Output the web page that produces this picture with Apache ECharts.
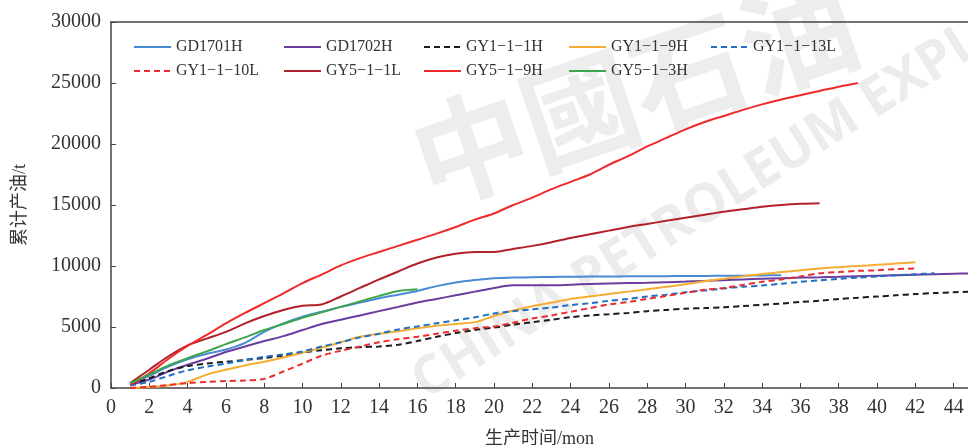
<!DOCTYPE html>
<html>
<head>
<meta charset="utf-8">
<script src="https://cdn.jsdelivr.net/npm/echarts@6/dist/echarts.min.js"></script>
<style>
  html, body { margin: 0; padding: 0; background: #fff; }
  #chart { width: 968px; height: 445px; }
</style>
</head>
<body>
<div id="chart"></div>
<script>
// 生产月份（每口井从第1个月开始）
const months = [];
for (let m = 1; m <= 45; m++) months.push(m);

const xTicks = [0, 2, 4, 6, 8, 10, 12, 14, 16, 18, 20, 22, 24, 26, 28, 30, 32, 34, 36, 38, 40, 42, 44];

// 累计产油 / t，按月读取
const gd1701h = [300, 1000, 1750, 2350, 2800, 3150, 3700, 4600, 5300, 5850, 6250, 6650, 7000, 7350, 7650,
  7950, 8350, 8650, 8850, 9000, 9050, 9080, 9100, 9120, 9130, 9140, 9150, 9160, 9170, 9180, 9190, 9200, 9210, 9230, 9250];
const gd1702h = [250, 700, 1350, 1900, 2400, 2950, 3400, 3850, 4250, 4750, 5250, 5600, 5950, 6300, 6650,
  7000, 7300, 7600, 7900, 8200, 8420, 8420, 8420, 8470, 8520, 8560, 8600, 8630, 8670, 8720, 8780, 8840, 8900, 8950,
  9000, 9050, 9080, 9120, 9170, 9210, 9250, 9290, 9330, 9370, 9400];
const gy1_1_1h = [250, 800, 1400, 1800, 2000, 2150, 2300, 2450, 2650, 2900, 3100, 3250, 3350, 3400, 3550,
  3850, 4200, 4500, 4750, 4950, 5200, 5400, 5600, 5800, 5950, 6050, 6150, 6300, 6400, 6500, 6550, 6620, 6720, 6820,
  6920, 7050, 7150, 7300, 7400, 7500, 7600, 7700, 7780, 7850, 7900];
const gy1_1_9h = [0, 80, 200, 500, 1100, 1500, 1850, 2150, 2500, 2900, 3300, 3750, 4200, 4450, 4650,
  4900, 5100, 5250, 5400, 5900, 6350, 6700, 7000, 7300, 7500, 7700, 7900, 8100, 8300, 8500, 8750, 8950, 9150, 9350,
  9500, 9650, 9800, 9900, 10000, 10100, 10200, 10300];
const gy1_1_13l = [200, 500, 1000, 1450, 1750, 2000, 2300, 2550, 2750, 3000, 3400, 3750, 4150, 4450, 4800,
  5050, 5300, 5550, 5800, 6100, 6300, 6450, 6600, 6800, 6950, 7150, 7300, 7500, 7650, 7850, 8000, 8150, 8300, 8400,
  8550, 8700, 8830, 8950, 9050, 9150, 9250, 9330, 9400];
const gy1_1_10l = [0, 100, 250, 400, 500, 570, 620, 750, 1350, 2000, 2650, 3050, 3400, 3750, 4000,
  4200, 4450, 4700, 4900, 5050, 5350, 5700, 5950, 6250, 6550, 6850, 7050, 7300, 7550, 7800, 8050, 8200, 8450, 8700,
  8900, 9150, 9400, 9500, 9600, 9650, 9750, 9800];
const gy5_1_1l = [400, 1500, 2600, 3500, 4050, 4600, 5300, 5900, 6400, 6750, 6850, 7500, 8200, 8900, 9550,
  10200, 10700, 11000, 11150, 11150, 11400, 11650, 11950, 12300, 12600, 12900, 13200, 13450, 13700, 13950, 14200,
  14450, 14650, 14850, 15000, 15100, 15150];
const gy5_1_9h = [250, 1200, 2400, 3450, 4350, 5300, 6150, 6950, 7750, 8600, 9300, 10050, 10650, 11150, 11650,
  12150, 12650, 13200, 13800, 14300, 15000, 15600, 16300, 16900, 17500, 18300, 19000, 19800, 20500, 21200, 21800,
  22300, 22800, 23250, 23650, 24000, 24350, 24700, 25000];
const gy5_1_3h = [400, 1100, 1850, 2450, 3000, 3600, 4150, 4750, 5250, 5750, 6200, 6650, 7100, 7550, 7950, 8100];

const wells = [
  { name: 'GD1701H', values: gd1701h, color: '#4a8ad4', dash: 'solid' },
  { name: 'GD1702H', values: gd1702h, color: '#6a3d9e', dash: 'solid' },
  { name: 'GY1−1−1H', values: gy1_1_1h, color: '#1c1c1c', dash: [6, 4] },
  { name: 'GY1−1−9H', values: gy1_1_9h, color: '#f5ae33', dash: 'solid' },
  { name: 'GY1−1−13L', values: gy1_1_13l, color: '#1f6fc2', dash: [6, 4] },
  { name: 'GY1−1−10L', values: gy1_1_10l, color: '#ec2d30', dash: [6, 4] },
  { name: 'GY5−1−1L', values: gy5_1_1l, color: '#b0212b', dash: 'solid' },
  { name: 'GY5−1−9H', values: gy5_1_9h, color: '#ee2a2a', dash: 'solid' },
  { name: 'GY5−1−3H', values: gy5_1_3h, color: '#3ea54c', dash: 'solid' }
];

const serif = '"Liberation Serif", "Times New Roman", serif';
const cjk = '"Liberation Serif", "Noto Sans CJK SC", serif';

const legendCols = [
  { left: 128, names: ['GD1701H', 'GY1−1−10L'] },
  { left: 278, names: ['GD1702H', 'GY5−1−1L'] },
  { left: 418, names: ['GY1−1−1H', 'GY5−1−9H'] },
  { left: 563, names: ['GY1−1−9H', 'GY5−1−3H'] },
  { left: 705, names: ['GY1−1−13L'] }
];

const chart = echarts.init(document.getElementById('chart'));

chart.setOption({
  animation: false,
  backgroundColor: '#fff',
  graphic: [
    {
      type: 'text', x: 432, y: 410, rotation: 0.56, z: -10, silent: true,
      style: { text: 'CHINA PETROLEUM EXPLORATION', font: 'bold 54px "Open Sans", sans-serif', fill: '#ececec', verticalAlign: 'bottom' }
    },
    {
      type: 'text', x: 435, y: 220, rotation: 0.33, z: -10, silent: true,
      style: { text: '中國石油', font: 'bold 115px "Noto Sans CJK TC", sans-serif', fill: '#ededed', verticalAlign: 'bottom' }
    }
  ],
  legend: legendCols.map(c => ({
    orient: 'vertical',
    left: c.left,
    top: 34,
    itemWidth: 37,
    itemHeight: 14,
    itemGap: 8,
    data: c.names,
    itemStyle: { opacity: 0 },
    textStyle: { fontFamily: serif, fontSize: 16, color: '#333', lineHeight: 16 }
  })),
  grid: { left: 111, right: 0, top: 22, bottom: 57, outerBoundsMode: 'none', containLabel: false },
  xAxis: [
    {
      type: 'value',
      min: 0,
      max: 44.75,
      interval: 2,
      name: '生产时间/mon',
      nameLocation: 'middle',
      nameGap: 42,
      nameTextStyle: { fontFamily: cjk, fontSize: 18, color: '#333' },
      axisLine: { lineStyle: { color: '#444', width: 1.5 } },
      axisTick: { inside: true, length: 5, lineStyle: { color: '#444' }, customValues: xTicks },
      axisLabel: { fontFamily: serif, fontSize: 20, color: '#333', margin: 10, customValues: xTicks },
      splitLine: { show: false }
    },
    {
      type: 'value',
      position: 'top',
      min: 0,
      max: 44.75,
      axisLine: { show: true, onZero: false, lineStyle: { color: '#444', width: 1.5 } },
      axisTick: { show: false },
      axisLabel: { show: false },
      splitLine: { show: false }
    }
  ],
  yAxis: {
    type: 'value',
    min: 0,
    max: 30000,
    interval: 5000,
    name: '累计产油/t',
    nameLocation: 'middle',
    nameGap: 82,
    nameTextStyle: { fontFamily: cjk, fontSize: 18, color: '#333' },
    axisLine: { show: true, lineStyle: { color: '#444', width: 1.5 } },
    axisTick: { show: true, inside: true, length: 5, lineStyle: { color: '#444' } },
    axisLabel: { fontFamily: serif, fontSize: 20, color: '#333', margin: 10, formatter: v => String(v) },
    splitLine: { show: false }
  },
  series: wells.map(w => ({
    name: w.name,
    type: 'line',
    xAxisIndex: 0,
    smooth: 0.3,
    symbol: 'none',
    data: w.values.map((v, i) => [months[i], v]),
    itemStyle: { color: w.color },
    lineStyle: { color: w.color, width: 2, type: w.dash }
  }))
});
</script>
</body>
</html>
